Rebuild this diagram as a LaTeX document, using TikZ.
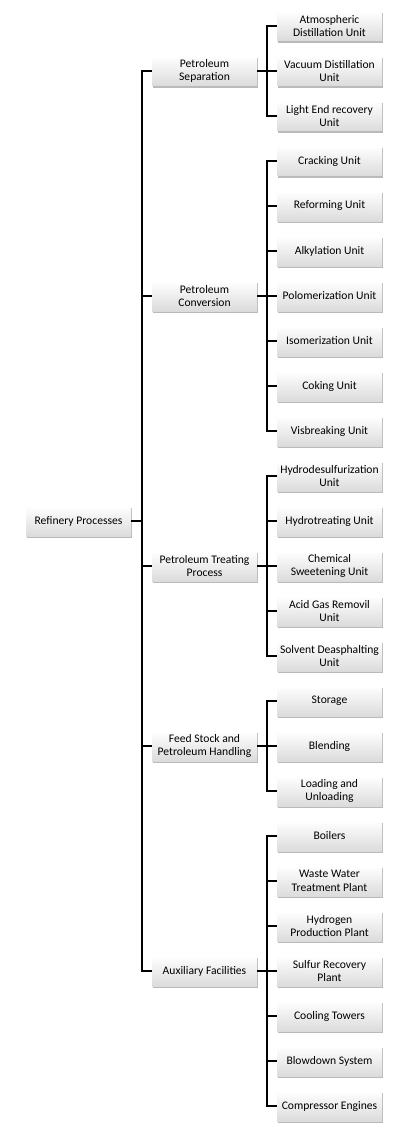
\documentclass[tikz,border=0pt]{standalone}
\usepackage{fontspec}
\setmainfont{Carlito}
\usetikzlibrary{shadows}
\tikzset{
  box/.style={minimum width=105pt, minimum height=30pt, inner sep=0pt, align=center,
    top color=white, bottom color=black!14, draw=none,
    font=\fontsize{11.6}{13.6}\selectfont,
    drop shadow={shadow xshift=1.2pt, shadow yshift=-2.4pt, opacity=0.45, fill=black!60}},
  conn/.style={line width=1.8pt, black}
}
\begin{document}
\begin{tikzpicture}[x=1pt,y=-1pt]
\useasboundingbox (0,0) rectangle (410,1134);
% root
\node[box] (root) at (78.5,521) {Refinery Processes};
% level 1
\node[box] (sep) at (204.5,71) {Petroleum\\Separation};
\node[box] (conv) at (204.5,296) {Petroleum\\Conversion};
\node[box] (treat) at (204.5,566) {Petroleum Treating\\Process};
\node[box] (feed) at (204.5,746) {Feed Stock and\\Petroleum Handling};
\node[box] (aux) at (204.5,971) {Auxiliary Facilities};
% leaves
\node[box] (s1) at (329.5,26) {Atmospheric\\Distillation Unit};
\node[box] (s2) at (329.5,71) {Vacuum Distillation\\Unit};
\node[box] (s3) at (329.5,116) {Light End recovery\\Unit};
\node[box] (c1) at (329.5,161) {Cracking Unit};
\node[box] (c2) at (329.5,206) {Reforming Unit};
\node[box] (c3) at (329.5,251) {Alkylation Unit};
\node[box] (c4) at (329.5,296) {Polomerization Unit};
\node[box] (c5) at (329.5,341) {Isomerization Unit};
\node[box] (c6) at (329.5,386) {Coking Unit};
\node[box] (c7) at (329.5,431) {Visbreaking Unit};
\node[box] (t1) at (329.5,476) {Hydrodesulfurization\\Unit};
\node[box] (t2) at (329.5,521) {Hydrotreating Unit};
\node[box] (t3) at (329.5,566) {Chemical\\Sweetening Unit};
\node[box] (t4) at (329.5,611) {Acid Gas Removil\\Unit};
\node[box] (t5) at (329.5,656) {Solvent Deasphalting\\Unit};
\node[box] (f1) at (329.5,701) {Storage};
\node[box] (f2) at (329.5,746) {Blending};
\node[box] (f3) at (329.5,791) {Loading and\\Unloading};
\node[box] (a1) at (329.5,836) {Boilers};
\node[box] (a2) at (329.5,881) {Waste Water\\Treatment Plant};
\node[box] (a3) at (329.5,926) {Hydrogen\\Production Plant};
\node[box] (a4) at (329.5,971) {Sulfur Recovery\\Plant};
\node[box] (a5) at (329.5,1016) {Cooling Towers};
\node[box] (a6) at (329.5,1061) {Blowdown System};
\node[box] (a7) at (329.5,1106) {Compressor Engines};
% connectors
\foreach \n in {sep,conv,treat,feed,aux}
  \draw[conn] (root.east) -- ++(10.5,0) |- (\n.west);
\foreach \n in {s1,s2,s3}
  \draw[conn] (sep.east) -- ++(9.5,0) |- (\n.west);
\foreach \n in {c1,c2,c3,c4,c5,c6,c7}
  \draw[conn] (conv.east) -- ++(9.5,0) |- (\n.west);
\foreach \n in {t1,t2,t3,t4,t5}
  \draw[conn] (treat.east) -- ++(9.5,0) |- (\n.west);
\foreach \n in {f1,f2,f3}
  \draw[conn] (feed.east) -- ++(9.5,0) |- (\n.west);
\foreach \n in {a1,a2,a3,a4,a5,a6,a7}
  \draw[conn] (aux.east) -- ++(9.5,0) |- (\n.west);
\end{tikzpicture}
\end{document}
